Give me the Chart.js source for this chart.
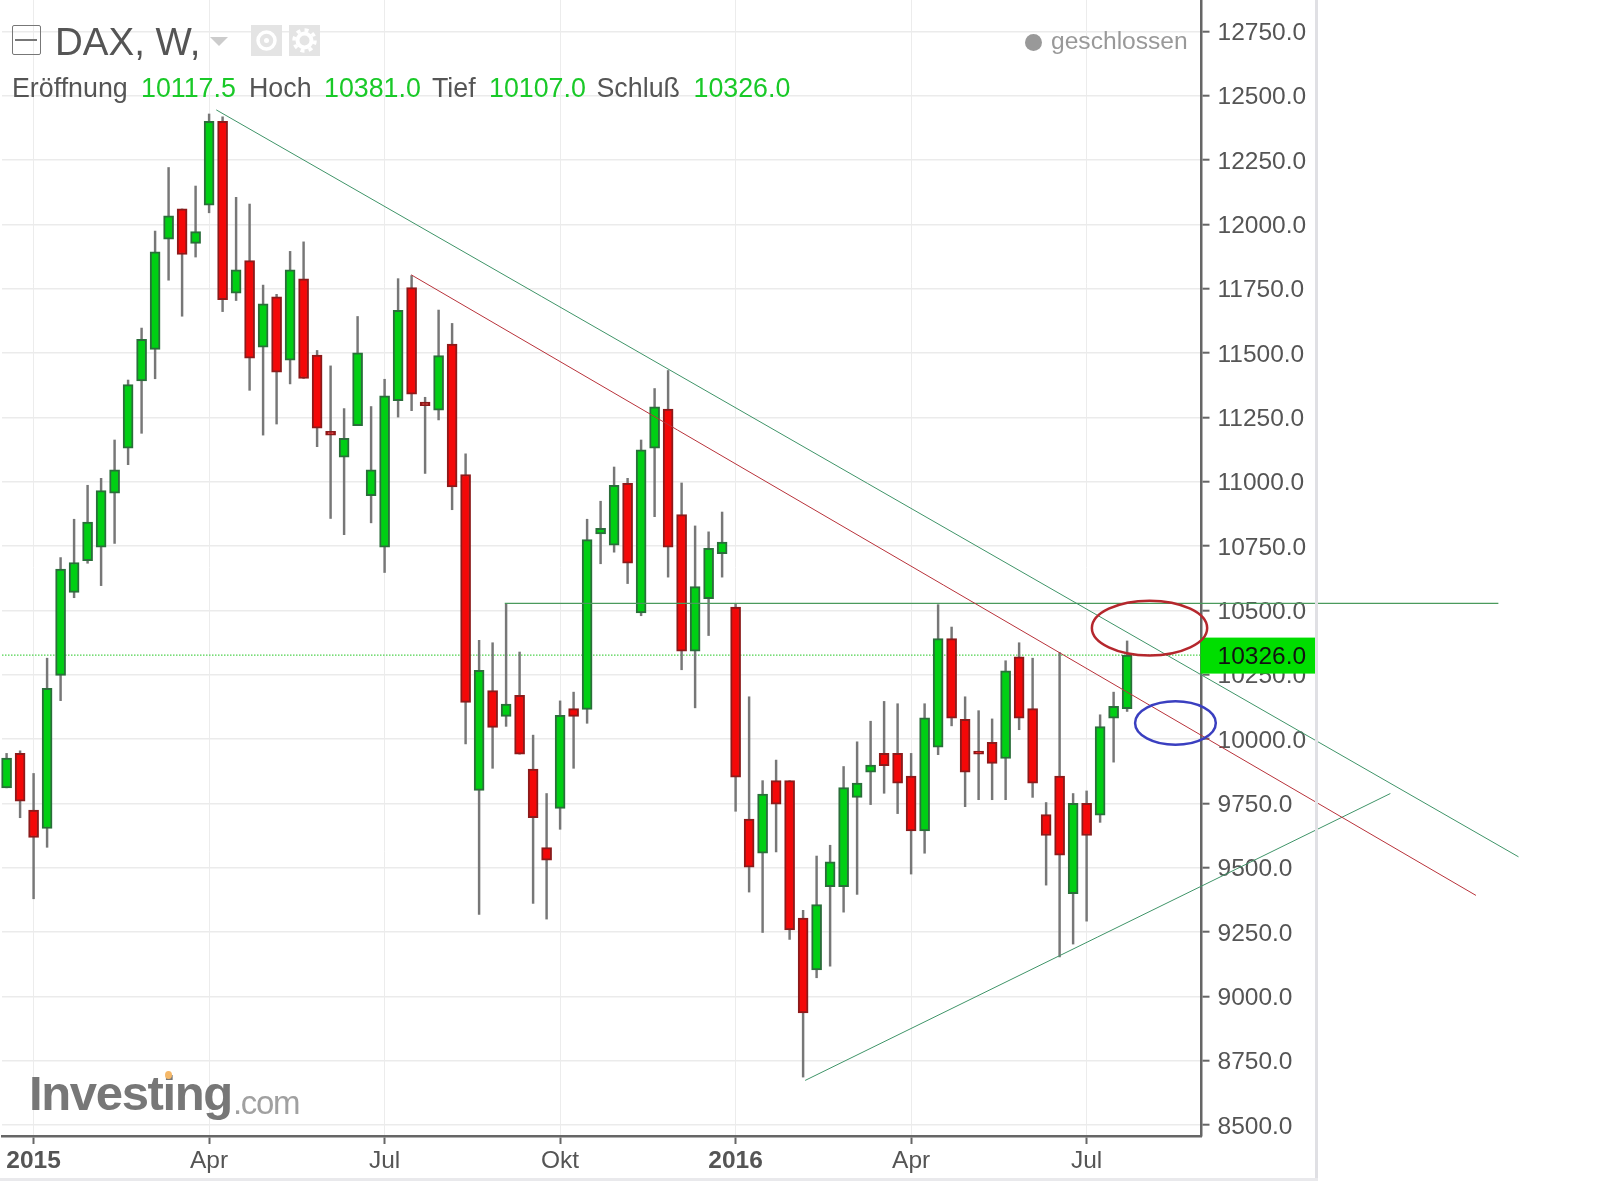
<!DOCTYPE html>
<html lang="de"><head><meta charset="utf-8">
<script src="https://cdn.jsdelivr.net/npm/chart.js@4/dist/chart.umd.min.js"></script>
<style>
html,body{margin:0;padding:0;background:#fff;overflow:hidden}
#wrap{position:relative;width:1600px;height:1188px;font-family:"Liberation Sans",Arial,sans-serif}
canvas{position:absolute;left:0;top:0}
.t{position:absolute;white-space:pre;line-height:1}
.g{color:#555}.v{color:#19c928}
</style></head><body>
<div id="wrap">
<canvas id="c" width="1600" height="1188"></canvas>
<div style="position:absolute;left:1212px;top:1133.5px;width:100px;height:20px;background:#fff"></div>
<div style="position:absolute;left:1315px;top:0;width:3px;height:1181px;background:#e0e0e4"></div>
<div style="position:absolute;left:0;top:1178px;width:1318px;height:3px;background:#e9e9ec"></div>
<div style="position:absolute;left:12px;top:25px;width:27px;height:28px;border:1.5px solid #777;border-radius:2px"></div>
<div style="position:absolute;left:15px;top:38.5px;width:22px;height:2px;background:#777"></div>
<div class="t g" style="left:55px;top:22.5px;font-size:38.5px">DAX, W,</div>
<div style="position:absolute;left:210px;top:37px;width:0;height:0;border-left:9px solid transparent;border-right:9px solid transparent;border-top:9px solid #ccc"></div>
<div style="position:absolute;left:251px;top:25px;width:31px;height:31px;background:#e4e4e4">
 <svg width="31" height="31"><circle cx="15.5" cy="15.5" r="8.5" fill="none" stroke="#fff" stroke-width="3.5"/><circle cx="15.5" cy="15.5" r="2.5" fill="#fff"/></svg></div>
<div style="position:absolute;left:289px;top:25px;width:31px;height:31px;background:#e4e4e4">
 <svg width="31" height="31"><circle cx="15.5" cy="15.5" r="7" fill="none" stroke="#fff" stroke-width="4"/><circle cx="15.5" cy="15.5" r="10.5" fill="none" stroke="#fff" stroke-width="3.5" stroke-dasharray="4 4.2"/></svg></div>
<div class="t g" style="left:12px;top:75px;font-size:26.8px">Eröffnung</div>
<div class="t v" style="left:141px;top:75px;font-size:26.8px">10117.5</div>
<div class="t g" style="left:249px;top:75px;font-size:26.8px">Hoch</div>
<div class="t v" style="left:324px;top:75px;font-size:26.8px">10381.0</div>
<div class="t g" style="left:432px;top:75px;font-size:26.8px">Tief</div>
<div class="t v" style="left:489px;top:75px;font-size:26.8px">10107.0</div>
<div class="t g" style="left:596.5px;top:75px;font-size:26.8px">Schluß</div>
<div class="t v" style="left:693.5px;top:75px;font-size:26.8px">10326.0</div>
<div style="position:absolute;left:1024.5px;top:33.5px;width:17px;height:17px;border-radius:50%;background:#999"></div>
<div class="t" style="left:1051px;top:29px;font-size:24.6px;color:#999">geschlossen</div>
<div class="t" style="left:29px;top:1069px;font-size:49px;font-weight:bold;color:#777;letter-spacing:-1.35px">Investing</div>
<div class="t" style="left:233px;top:1086px;font-size:33px;color:#a0a0a0;letter-spacing:-1.3px">.com</div>
<div style="position:absolute;left:165px;top:1071px;width:7px;height:8px;border-radius:50%;background:#f5b869"></div>
</div>
<script>
const weekIndex = Array.from({length:84},(_,i)=>i);
const opens = [9810,9944,9724,9652,10247,10570,10693,10745,10955,11130,11392,11514,11942,12060,11926,12075,12400,11733,11859,11523,11718,11472,11788,11492,11196,11095,11218,10946,10745,11315,11754,11309,11278,11535,11028,9800,10188,10088,10170,9883,9578,9730,10118,10115,10797,10753,10994,10490,11130,11282,10872,10341,10545,10720,10513,9689,9556,9838,9838,9304,9102,9426,9426,9773,9871,9944,9944,9856,9643,9968,10390,10076,9953,9987,9924,10319,10118,9706,9856,9399,9750,9704,10081,10117.5];
const highs = [9944,9954,9866,10314,10705,10854,10986,11013,11162,11395,11597,11974,12221,12060,12149,12429,12418,12105,12079,11764,11728,11895,11932,11510,11450,11284,11642,11292,11398,11789,11801,11328,11667,11615,11108,10383,10374,10524,10338,10015,9788,10148,10182,10854,10924,11057,11013,11162,11362,11432,10995,10828,10805,10882,10524,10164,9838,9918,9838,9334,9545,9587,9893,9989,10069,10146,10137,9944,10137,10522,10435,10164,10110,10078,10304,10374,10314,9753,10336,9788,9798,10094,10182,10381];
const lows = [9810,9694,9379,9579,10149,10549,10683,10596,10760,11066,11188,11400,11783,11643,11873,12045,11661,11704,11355,11181,11224,11380,11401,11136,10857,10794,11218,10840,10647,11251,11276,11032,11240,10891,9981,9318,9886,10049,9941,9361,9300,9649,9886,10061,10681,10726,10604,10479,10864,10629,10269,10121,10402,10629,9719,9405,9248,9561,9221,8686,9072,9117,9327,9396,9745,9789,9710,9475,9556,9939,10051,9737,9764,9764,9764,10036,9773,9432,9153,9203,9292,9676,9910,10107];
const closes = [9926,9758,9617,10197,10660,10686,10843,10965,11046,11377,11553,11893,12033,11883,11972,12400,11707,11823,11480,11691,11426,11823,11401,11208,11181,11168,11501,11046,11334,11666,11340,11295,11490,10980,10142,10267,10045,10136,9941,9694,9529,10092,10088,10775,10819,10986,10683,11124,11291,10745,10341,10592,10741,10765,9852,9502,9786,9747,9258,8935,9356,9523,9811,9829,9899,9896,9828,9643,10082,10390,10081,9871,9941,9905,10265,10081,9828,9625,9548,9750,9625,10048,10127,10326];
const yTickValues = [8500,8750,9000,9250,9500,9750,10000,10250,10500,10750,11000,11250,11500,11750,12000,12250,12500,12750];
const xTickValues = [2,15,28,41,54,67,80];
const xTickLabels = ['2015','Apr','Jul','Okt','2016','Apr','Jul'];
const boldTicks = [2,54];
const lastClose = 10326;
const trendUpper = [{x:15.53,y:12445},{x:111.99,y:9542}];
const trendMiddle = [{x:29.97,y:11804},{x:108.84,y:9392}];
const trendRising = [{x:59.15,y:8673},{x:102.5,y:9788}];
const resistance = [{x:36.9,y:10527},{x:110.5,y:10527}];
const lastLine = [{x:-0.34,y:lastClose},{x:88.51,y:lastClose}];
const circled = [
  {x:84.66,y:10431,rx:4.27,ry:106.5,color:'#b5272d'},
  {x:86.58,y:10062,rx:2.99,ry:84.7,color:'#3a3fc0'}
];
const up = (i)=>closes[i]>=opens[i];
const lineDs = (data,color,width,order,dash)=>({type:'line',data,borderColor:color,borderWidth:width,pointRadius:0,order,clip:false,borderDash:dash||[],tension:0,fill:false});

const overlay = {
  id:'overlay',
  afterDatasetsDraw(chart){
    const {ctx,scales:{x,y}} = chart;
    const py = y.getPixelForValue(lastClose);
    ctx.save();
    ctx.fillStyle='#00de00';
    ctx.fillRect(1200.5,py-17.5,114.5,36);
    ctx.fillStyle='#111';
    ctx.font='24.5px "Liberation Sans"';
    ctx.textBaseline='middle';
    ctx.textAlign='left';
    ctx.fillText(lastClose.toFixed(1),1217.5,py+2);
    ctx.lineWidth=2.5;
    circled.forEach(e=>{
      const cx=x.getPixelForValue(e.x), cy=y.getPixelForValue(e.y);
      const rx=Math.abs(x.getPixelForValue(e.x+e.rx)-cx), ry=Math.abs(y.getPixelForValue(e.y+e.ry)-cy);
      ctx.strokeStyle=e.color;
      ctx.beginPath();ctx.ellipse(cx,cy,rx,ry,0,0,Math.PI*2);ctx.stroke();
    });
    ctx.restore();
  }
};

new Chart(document.getElementById('c'),{
  type:'bar',
  plugins:[overlay],
  data:{datasets:[
    lineDs(trendUpper,'#3f9468',1,1),
    lineDs(trendMiddle,'#b8323a',1,1),
    lineDs(trendRising,'#3f9468',1,1),
    lineDs(resistance,'#4a9a5c',1.3,1),
    lineDs(lastLine,'#4fd24f',1.4,6,[1.5,1.5]),
    {label:'Körper',order:3,grouped:false,clip:false,barThickness:10,borderWidth:2,borderSkipped:false,
     data:weekIndex.map(i=>({x:i,y:[opens[i],closes[i]]})),
     backgroundColor:weekIndex.map(i=>up(i)?'#00cf14':'#f40808'),
     borderColor:weekIndex.map(i=>up(i)?'#2a6e3a':'#8c1a1a')},
    {label:'Docht',order:4,grouped:false,clip:false,barThickness:1.8,borderWidth:0,
     data:weekIndex.map(i=>({x:i,y:[lows[i],highs[i]]})),
     backgroundColor:'#777'}
  ]},
  options:{
    responsive:false,animation:false,devicePixelRatio:1,
    layout:{padding:{left:2,right:0,top:0,bottom:0}},
    plugins:{legend:{display:false},tooltip:{enabled:false},title:{display:false}},
    scales:{
      x:{type:'linear',min:-0.34,max:88.51,offset:false,
        afterBuildTicks(s){s.ticks=xTickValues.map(value=>({value}));},
        afterFit(s){s.height=52;s.paddingLeft=0;s.paddingRight=0;},
        border:{color:'#666',width:2.5},
        grid:{offset:false,color:'#ececec',lineWidth:1,tickLength:8,tickColor:'#666',tickWidth:2},
        ticks:{autoSkip:false,maxRotation:0,minRotation:0,padding:3,color:'#555',
          font:c=>({family:'"Liberation Sans"',size:24.5,weight:boldTicks.includes(c.tick&&c.tick.value)?'bold':'normal'}),
          callback:v=>xTickLabels[xTickValues.indexOf(v)]}},
      y:{type:'linear',position:'right',min:8457,max:12872,
        afterBuildTicks(s){s.ticks=yTickValues.map(value=>({value}));},
        afterFit(s){s.width=398.5;s.paddingTop=0;s.paddingBottom=0;},
        border:{color:'#666',width:2.5},
        grid:{color:'#ebebeb',lineWidth:1.4,tickLength:8,tickColor:'#666',tickWidth:2},
        ticks:{autoSkip:false,padding:8,labelOffset:2,color:'#555',crossAlign:'near',
          font:{family:'"Liberation Sans"',size:24.5},
          callback:v=>v.toFixed(1)}}
    }
  }
});
</script>
</body></html>
